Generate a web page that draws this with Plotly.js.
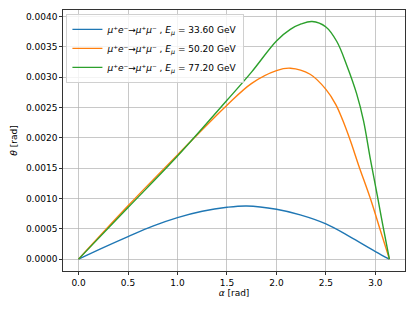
<!DOCTYPE html>
<html>
<head>
<meta charset="utf-8">
<script src="https://cdn.plot.ly/plotly-3.0.1.min.js"></script>
<style>
  html, body { margin: 0; padding: 0; background: #ffffff; }
  #chart { width: 415px; height: 311px; }
</style>
</head>
<body>
<div id="chart"></div>
<script>
// Data
const alpha336 = [0, 0.25, 0.5, 0.75, 1.0, 1.25, 1.5, 1.7, 2.0, 2.24, 2.5, 2.74, 3.0, 3.1416];
const theta336 = [0, 0.00019, 0.000372, 0.000545, 0.000685, 0.00079, 0.000855, 0.000877, 0.000822, 0.000729, 0.00058, 0.000372, 0.000125, 0];

const alpha502 = [0, 0.5, 1.0, 1.5, 1.75, 2.0, 2.14, 2.34, 2.5, 2.6, 2.67, 2.75, 2.83, 2.955, 3.045, 3.1416];
const theta502 = [0, 0.00088, 0.00172, 0.00254, 0.0029, 0.00311, 0.00315, 0.00305, 0.0028, 0.00255, 0.00229, 0.00194, 0.00155, 0.00097, 0.0005, 0];

const alpha772 = [0, 0.5, 1.0, 1.5, 1.75, 2.0, 2.14, 2.25, 2.36, 2.5, 2.61, 2.71, 2.81, 2.88, 2.95, 3.018, 3.078, 3.1416];
const theta772 = [0, 0.00085, 0.0017, 0.00262, 0.00309, 0.0036, 0.00379, 0.00388, 0.00392, 0.00383, 0.00359, 0.0032, 0.00273, 0.00228, 0.00164, 0.00106, 0.00053, 0];

const energies = ["33.60", "50.20", "77.20"];
const colors = ["#1f77b4", "#ff7f0e", "#2ca02c"];

function label(e) {
  return "<i>μ</i>⁺<i>e</i>⁻→<i>μ</i>⁺<i>μ</i>⁻ , <i>E<sub>μ</sub></i> = " + e + " GeV";
}

const xs = [alpha336, alpha502, alpha772];
const ys = [theta336, theta502, theta772];

const traces = xs.map((x, i) => ({
  x: x,
  y: ys[i],
  type: "scatter",
  mode: "lines",
  name: label(energies[i]),
  line: { color: colors[i], width: 1.4, shape: "spline", smoothing: 1 }
}));

const font = { family: "DejaVu Sans, sans-serif", size: 9, color: "#000000" };

const layout = {
  width: 415,
  height: 311,
  margin: { l: 63, r: 10, t: 10, b: 40 },
  paper_bgcolor: "#ffffff",
  plot_bgcolor: "#ffffff",
  font: font,
  showlegend: true,
  legend: {
    x: 0.01, y: 0.985, xanchor: "left", yanchor: "top",
    bgcolor: "rgba(255,255,255,0.8)",
    bordercolor: "#d0d0d0", borderwidth: 1,
    font: { family: "DejaVu Sans, sans-serif", size: 9, color: "#000000" },
    tracegroupgap: 0
  },
  xaxis: {
    range: [-0.157, 3.299],
    tick0: 0, dtick: 0.5, tickformat: ".1f",
    showgrid: true, gridcolor: "#b0b0b0", gridwidth: 0.7,
    zeroline: false,
    showline: true, linecolor: "#000000", linewidth: 0.8, mirror: true,
    ticks: "outside", ticklen: 3, tickwidth: 0.8, tickcolor: "#000000",
    title: { text: "<i>α</i> [rad]", font: font, standoff: 3 }
  },
  yaxis: {
    range: [-0.000196, 0.00411],
    tick0: 0, dtick: 0.0005, tickformat: ".4f",
    showgrid: true, gridcolor: "#b0b0b0", gridwidth: 0.7,
    zeroline: false,
    showline: true, linecolor: "#000000", linewidth: 0.8, mirror: true,
    ticks: "outside", ticklen: 3, tickwidth: 0.8, tickcolor: "#000000",
    title: { text: "<i>θ</i> [rad]", font: font, standoff: 6 }
  }
};

Plotly.newPlot("chart", traces, layout, { displayModeBar: false, staticPlot: true });
</script>
</body>
</html>
